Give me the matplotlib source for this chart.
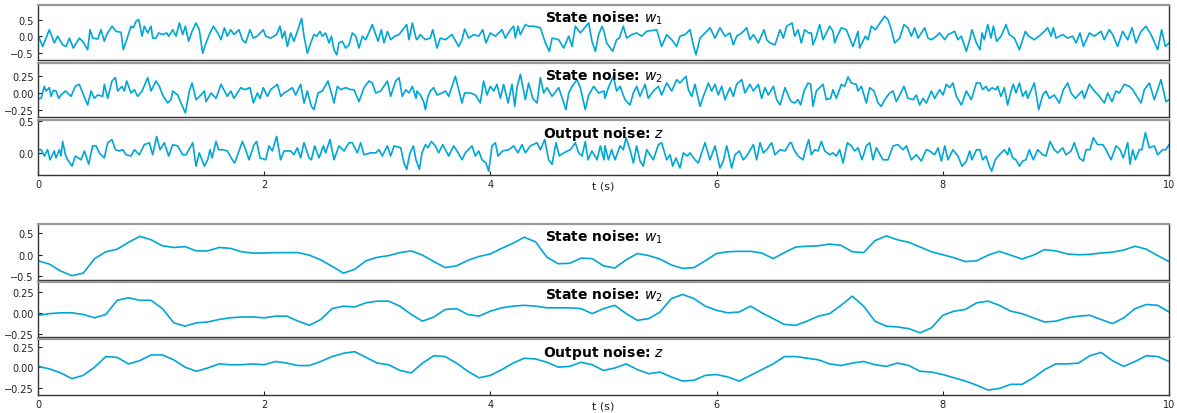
import numpy as np
import matplotlib
matplotlib.use('Agg')
from matplotlib import pyplot as plt

LINE_COLOR = '#00A6D6'
SPINE_COLOR = '#333333'
TOP_SPINE_COLOR = '#9a9a9a'

# ---- top group: raw noise (time in s, value) ----
w1_raw_t = [0.0, 0.041, 0.1, 0.144, 0.174, 0.218, 0.248, 0.277, 0.312, 0.365, 0.395, 0.439, 0.46, 0.483, 0.528,
            0.557, 0.586, 0.607, 0.654, 0.69, 0.734, 0.754, 0.784, 0.822, 0.843, 0.866, 0.89, 0.92, 0.94, 0.97,
            0.999, 1.014, 1.043, 1.067, 1.102, 1.138, 1.155, 1.191, 1.22, 1.25, 1.279, 1.303, 1.332, 1.362, 1.397,
            1.426, 1.456, 1.485, 1.515, 1.55, 1.589, 1.618, 1.648,
            1.674, 1.704, 1.733, 1.777, 1.807, 1.836, 1.874, 1.904, 1.939, 1.992, 2.013, 2.057, 2.087, 2.11, 2.14,
            2.16, 2.181, 2.205, 2.234, 2.263, 2.308, 2.331, 2.352, 2.381, 2.411, 2.44, 2.464, 2.493, 2.514, 2.543,
            2.573, 2.594, 2.617, 2.641, 2.661, 2.691, 2.72, 2.75, 2.779, 2.809, 2.838, 2.868, 2.897, 2.956, 2.986,
            3.006, 3.036, 3.059, 3.089, 3.118, 3.154, 3.192, 3.26, 3.28, 3.31, 3.342,
            3.351, 3.38, 3.425, 3.469, 3.49, 3.528, 3.557, 3.602, 3.66, 3.719, 3.749, 3.772, 3.808, 3.852, 3.896,
            3.932, 3.961, 3.999, 4.044, 4.103, 4.132, 4.176, 4.206, 4.22, 4.244, 4.265, 4.309, 4.338, 4.383, 4.442,
            4.486, 4.521, 4.545, 4.604, 4.648, 4.692, 4.722, 4.751, 4.795, 4.869, 4.898, 4.928, 4.957, 4.987, 5.004,
            5.028, 5.081, 5.116, 5.14, 5.175, 5.205, 5.249, 5.293, 5.337, 5.382, 5.47, 5.514, 5.559, 5.603, 5.647,
            5.676, 5.721, 5.765, 5.794, 5.818, 5.853, 5.912, 5.942, 5.986, 6.03, 6.074, 6.118, 6.148, 6.177, 6.222,
            6.266, 6.295, 6.325, 6.369, 6.419, 6.443, 6.472, 6.516, 6.561, 6.59, 6.619,
            6.667, 6.69, 6.72, 6.749, 6.779, 6.814, 6.838, 6.852, 6.882, 6.911, 6.941, 7.0, 7.029, 7.044, 7.073,
            7.103, 7.147, 7.206, 7.25, 7.265, 7.315, 7.339, 7.368, 7.403, 7.486, 7.515, 7.545, 7.574, 7.619, 7.657,
            7.692, 7.722, 7.751, 7.781, 7.84, 7.869, 7.899, 7.943, 7.972, 8.017, 8.046, 8.105, 8.134, 8.164, 8.208,
            8.238, 8.258, 8.297, 8.329,
            8.347, 8.367, 8.397, 8.426, 8.447, 8.476, 8.515, 8.559, 8.588, 8.633, 8.677, 8.73, 8.759, 8.809, 8.868,
            8.898, 8.927, 8.957, 8.977, 9.001, 9.06, 9.104, 9.148, 9.178, 9.213, 9.243, 9.296, 9.34, 9.399, 9.428,
            9.472, 9.502, 9.546, 9.59, 9.635, 9.673, 9.708, 9.753, 9.797, 9.841, 9.9, 9.935, 9.968, 10.0]
w1_raw = [0.04, -0.31, 0.21, -0.2, 0.01, -0.26, -0.31, -0.05, -0.36, -0.05, -0.15, -0.41, 0.21, -0.05, -0.08,
          0.21, -0.15, 0.06, 0.32, 0.16, 0.13, -0.41, -0.1, 0.32, 0.27, 0.47, 0.53, 0.01, 0.32, 0.11,
          0.32, -0.05, -0.05, 0.11, 0.06, 0.11, 0.01, 0.21, 0.01, 0.42, 0.06, 0.32, -0.15, 0.16, 0.42,
          0.21, -0.52, -0.2, 0.06, 0.32, 0.11, -0.1, 0.27,
          0.01, 0.21, 0.06, 0.21, -0.1, -0.2, 0.21, -0.05, 0.01, 0.21, 0.01, -0.05, 0.01, 0.06, 0.32,
          -0.05, 0.16, -0.31, 0.11, -0.15, 0.32, 0.56, 0.01, -0.52, -0.2, 0.06, 0.01, 0.16, 0.01, 0.11,
          -0.2, 0.01, -0.41, -0.57, -0.2, -0.15, -0.36, -0.26, 0.11, 0.01, -0.36, 0.01, -0.1, 0.37, 0.06,
          -0.15, 0.21, -0.2, 0.16, -0.1, 0.01, 0.06, 0.37, -0.1, 0.42, -0.05,
          -0.1, 0.06, -0.1, -0.05, 0.21, -0.36, -0.05, -0.1, 0.06, -0.31, -0.1, 0.23, -0.05, 0.06, 0.01,
          0.21, -0.2, 0.11, 0.01, 0.21, -0.05, 0.21, 0.32, -0.05, 0.32, 0.06, 0.37, 0.32, 0.32, 0.27,
          -0.2, -0.46, -0.05, -0.1, -0.36, 0.01, -0.31, 0.32, 0.11, 0.42, -0.15, -0.46, 0.06, 0.32, 0.16,
          -0.2, -0.46, -0.1, -0.05, 0.32, -0.05, 0.06, 0.11, 0.01, 0.16, 0.21, -0.31, 0.06, -0.1, -0.31,
          0.01, 0.06, 0.21, -0.26, -0.57, -0.05, 0.16, 0.27, -0.05, 0.27, 0.01, 0.11, -0.26, 0.01, 0.11,
          0.27, -0.1, 0.06, -0.2, 0.21, -0.1, -0.2, -0.26, 0.21, -0.05, 0.32,
          0.42, 0.01, 0.21, -0.2, 0.21, 0.11, 0.11, -0.26, 0.01, 0.37, -0.1, 0.32, 0.16, -0.2, 0.06,
          0.27, 0.21, -0.31, 0.16, -0.36, 0.01, -0.1, 0.32, 0.21, 0.63, 0.53, 0.21, -0.2, -0.05, 0.37,
          0.27, 0.01, 0.27, -0.05, 0.27, -0.05, -0.1, 0.01, 0.11, -0.1, 0.06, 0.16, -0.1, 0.01, -0.46,
          -0.1, 0.21, -0.2, -0.41,
          0.11, -0.1, 0.37, -0.05, 0.32, -0.15, 0.01, 0.37, 0.06, -0.05, -0.41, 0.16, 0.01, -0.1, 0.06,
          0.16, 0.27, 0.01, 0.27, -0.05, 0.06, -0.05, 0.01, -0.2, 0.11, -0.31, 0.11, 0.01, 0.16, -0.1,
          0.21, 0.06, -0.31, 0.16, -0.1, 0.27, -0.2, 0.16, 0.32, 0.06, -0.41, 0.21, -0.31, -0.2]

w2_raw_t = [0.0, 0.027, 0.056, 0.071, 0.1, 0.115, 0.136, 0.159, 0.183, 0.203, 0.242, 0.262, 0.292, 0.33, 0.365,
            0.395, 0.439, 0.469, 0.498, 0.528, 0.572, 0.586, 0.616, 0.654, 0.684, 0.704, 0.743, 0.763, 0.784, 0.822,
            0.852, 0.881, 0.92, 0.97, 0.999, 1.043, 1.073, 1.102, 1.146, 1.176, 1.191, 1.235, 1.264, 1.303, 1.338,
            1.362, 1.397, 1.441, 1.471, 1.485, 1.53, 1.574, 1.618,
            1.674, 1.704, 1.733, 1.762, 1.792, 1.827, 1.874, 1.904, 1.939, 1.963, 1.992, 2.028, 2.057, 2.116, 2.146,
            2.175, 2.205, 2.249, 2.278, 2.322, 2.352, 2.381, 2.417, 2.44, 2.476, 2.514, 2.564, 2.602, 2.617, 2.647,
            2.676, 2.72, 2.765, 2.794, 2.838, 2.882, 2.927, 2.956, 2.986, 3.03, 3.089, 3.118, 3.162, 3.192, 3.221,
            3.251, 3.28, 3.31, 3.342,
            3.351, 3.38, 3.41, 3.425, 3.448, 3.469, 3.498, 3.528, 3.572, 3.602, 3.631, 3.69, 3.719, 3.749, 3.772,
            3.823, 3.867, 3.911, 3.94, 3.97, 3.999, 4.029, 4.058, 4.088, 4.117, 4.156, 4.191, 4.215, 4.235, 4.265,
            4.294, 4.309, 4.338, 4.374, 4.412, 4.442, 4.471, 4.5, 4.545, 4.604, 4.668, 4.692, 4.722, 4.766, 4.795,
            4.839, 4.869, 4.913, 4.957, 5.004,
            5.013, 5.043, 5.087, 5.116, 5.146, 5.19, 5.234, 5.264, 5.293, 5.323, 5.367, 5.396, 5.441, 5.485, 5.514,
            5.559, 5.603, 5.647, 5.676, 5.729, 5.75, 5.78, 5.809, 5.853, 5.883, 5.927, 5.956, 5.986, 6.015, 6.045,
            6.074, 6.118, 6.148, 6.177, 6.222, 6.251, 6.295, 6.325, 6.369, 6.398, 6.428, 6.457, 6.502, 6.531, 6.561,
            6.605, 6.649,
            6.661, 6.69, 6.72, 6.743, 6.773, 6.808, 6.832, 6.852, 6.882, 6.911, 6.941, 6.97, 7.008, 7.029, 7.059,
            7.103, 7.132, 7.162, 7.191, 7.235, 7.25, 7.28, 7.324, 7.353, 7.392, 7.427, 7.456, 7.486, 7.53, 7.56,
            7.589, 7.657, 7.692, 7.737, 7.766, 7.795, 7.825, 7.854, 7.899, 7.928, 7.972, 8.002, 8.031, 8.061, 8.09,
            8.12, 8.164, 8.208, 8.252, 8.297, 8.329,
            8.352, 8.382, 8.405, 8.435, 8.47, 8.485, 8.514, 8.544, 8.573, 8.603, 8.624, 8.647, 8.677, 8.706, 8.736,
            8.75, 8.809, 8.848, 8.883, 8.912, 8.942, 8.986, 9.03, 9.066, 9.104, 9.134, 9.172, 9.231, 9.251, 9.296,
            9.34, 9.384, 9.428, 9.458, 9.496, 9.531, 9.561, 9.605, 9.649, 9.679, 9.753, 9.782, 9.826, 9.87, 9.929,
            9.973, 10.0]
w2_raw = [-0.08, -0.08, 0.1, 0.03, 0.08, -0.05, 0.04, 0.03, -0.08, -0.03, 0.03, 0.0, -0.05, 0.1, 0.13,
          0.0, -0.18, 0.03, -0.08, -0.03, -0.05, 0.13, -0.08, 0.18, 0.23, 0.03, 0.1, 0.03, 0.18, 0.0,
          0.05, -0.05, 0.03, 0.23, 0.03, 0.18, 0.1, -0.03, -0.15, -0.1, 0.03, -0.03, -0.15, -0.3, 0.03,
          0.15, -0.1, -0.03, 0.03, -0.13, 0.0, -0.08, 0.13,
          -0.05, 0.03, -0.08, 0.0, 0.08, 0.05, 0.08, -0.15, 0.0, -0.08, 0.08, -0.05, 0.05, 0.13, -0.05,
          0.0, 0.03, 0.08, -0.03, 0.13, -0.15, 0.03, -0.2, -0.25, 0.0, 0.03, 0.18, -0.05, -0.15, 0.1,
          0.05, 0.08, 0.05, 0.05, -0.13, 0.08, 0.18, 0.15, 0.0, 0.03, 0.18, -0.05, 0.18, 0.23, -0.05,
          0.05, 0.0, 0.1, -0.08,
          0.03, -0.03, -0.13, -0.25, -0.05, 0.03, 0.08, -0.03, 0.0, 0.03, -0.05, 0.25, 0.05, -0.15, 0.0,
          0.0, -0.03, -0.15, 0.18, -0.03, 0.1, 0.03, 0.13, -0.08, 0.13, -0.15, 0.13, -0.2, 0.08, 0.28,
          0.03, -0.1, 0.15, -0.08, -0.15, 0.23, 0.0, 0.08, -0.05, 0.08, -0.25, 0.0, 0.1, 0.2, 0.08,
          -0.25, -0.03, 0.1, 0.0, 0.03,
          -0.08, 0.08, 0.25, 0.03, 0.1, -0.1, -0.18, 0.0, 0.1, -0.05, 0.13, -0.08, 0.03, 0.1, -0.03,
          0.15, 0.03, 0.2, 0.15, 0.25, 0.05, -0.05, 0.13, -0.2, -0.05, 0.15, 0.03, 0.13, -0.03, 0.1,
          -0.1, 0.08, -0.05, 0.13, 0.2, 0.0, 0.13, 0.03, 0.13, -0.08, 0.08, -0.03, 0.1, -0.1, -0.18,
          0.08, -0.1,
          -0.13, -0.15, -0.1, -0.18, 0.03, 0.15, 0.13, -0.2, 0.03, 0.08, 0.13, -0.1, -0.08, 0.05, -0.08,
          0.13, 0.1, 0.24, 0.15, 0.13, 0.03, 0.1, -0.15, 0.08, 0.03, -0.15, -0.2, -0.1, 0.0, 0.03,
          -0.13, 0.1, -0.08, -0.1, -0.03, -0.18, -0.08, -0.15, 0.03, -0.08, 0.05, -0.03, 0.13, 0.08, 0.15,
          -0.05, -0.18, 0.03, -0.1, 0.15, 0.15,
          0.05, 0.1, 0.03, 0.08, 0.05, 0.1, -0.05, 0.08, -0.18, 0.03, 0.13, 0.0, 0.15, -0.05, 0.03,
          -0.08, 0.15, -0.25, -0.03, 0.03, -0.08, -0.03, -0.15, 0.05, 0.15, 0.0, -0.08, 0.03, -0.08, 0.13,
          0.03, -0.05, -0.15, 0.0, -0.13, 0.03, 0.0, 0.13, 0.1, 0.05, -0.15, 0.05, 0.15, -0.1, 0.2,
          -0.13, -0.1]

z_raw_t = [0.0, 0.027, 0.056, 0.085, 0.106, 0.144, 0.159, 0.189, 0.203, 0.218, 0.242, 0.262, 0.301, 0.33, 0.38,
           0.41, 0.448, 0.483, 0.513, 0.542, 0.586, 0.616, 0.654, 0.684, 0.719, 0.749, 0.778, 0.822, 0.852, 0.896,
           0.94, 0.984, 1.014, 1.049, 1.079, 1.117, 1.155, 1.191, 1.235, 1.279, 1.309, 1.368, 1.397, 1.426, 1.471,
           1.5, 1.521, 1.539, 1.574, 1.597, 1.633,
           1.674, 1.718, 1.739, 1.762, 1.807, 1.836, 1.866, 1.91, 1.933, 1.963, 2.013, 2.042, 2.072, 2.11, 2.145,
           2.175, 2.234, 2.263, 2.293, 2.322, 2.352, 2.396, 2.417, 2.446, 2.485, 2.523, 2.543, 2.582, 2.617, 2.661,
           2.706, 2.75, 2.779, 2.823, 2.853, 2.882, 2.941, 2.986, 3.015, 3.044, 3.089, 3.118, 3.148, 3.207, 3.236,
           3.26, 3.289, 3.319, 3.342,
           3.372, 3.395, 3.425, 3.448, 3.478, 3.513, 3.543, 3.578, 3.602, 3.631, 3.675, 3.705, 3.749, 3.778, 3.837,
           3.867, 3.896, 3.926, 3.961, 3.985, 4.014, 4.044, 4.067, 4.108, 4.162, 4.206, 4.244, 4.279, 4.309, 4.353,
           4.412, 4.442, 4.48, 4.515, 4.545, 4.58, 4.609, 4.648, 4.707, 4.751, 4.78, 4.81, 4.839, 4.863, 4.898,
           4.943, 4.972, 5.004,
           5.013, 5.043, 5.072, 5.102, 5.146, 5.175, 5.199, 5.234, 5.264, 5.293, 5.323, 5.352, 5.382, 5.411, 5.441,
           5.485, 5.514, 5.559, 5.588, 5.612, 5.641, 5.676, 5.706, 5.741, 5.765, 5.809, 5.838, 5.897, 5.942, 5.986,
           6.03, 6.059, 6.089, 6.104, 6.133, 6.163, 6.201, 6.236, 6.266, 6.325, 6.354, 6.384, 6.413, 6.443, 6.487,
           6.516, 6.561, 6.605, 6.649,
           6.661, 6.684, 6.72, 6.764, 6.779, 6.814, 6.838, 6.867, 6.897, 6.926, 6.956, 7.0, 7.029, 7.059, 7.088,
           7.118, 7.156, 7.191, 7.221, 7.25, 7.286, 7.324, 7.353, 7.383, 7.412, 7.471, 7.515, 7.56, 7.604, 7.648,
           7.678, 7.722, 7.766, 7.81, 7.854, 7.884, 7.928, 7.958, 7.987, 8.017, 8.046, 8.09, 8.134, 8.17, 8.208,
           8.238, 8.258, 8.297, 8.329,
           8.352, 8.382, 8.411, 8.432, 8.464, 8.5, 8.544, 8.573, 8.588, 8.618, 8.647, 8.677, 8.706, 8.735, 8.765,
           8.8, 8.839, 8.883, 8.912, 8.948, 8.986, 9.016, 9.06, 9.089, 9.134, 9.163, 9.207, 9.243, 9.266, 9.301,
           9.331, 9.369, 9.414, 9.443, 9.487, 9.532, 9.567, 9.596, 9.635, 9.655, 9.679, 9.702, 9.738, 9.761, 9.791,
           9.826, 9.87, 9.9, 9.944, 9.973, 10.0]
z_raw = [0.05, 0.05, -0.05, 0.05, -0.11, 0.03, -0.08, 0.05, -0.05, 0.18, -0.03, -0.11, -0.21, -0.05, -0.11,
         0.03, -0.18, 0.11, 0.11, 0.0, -0.08, 0.16, 0.21, 0.05, 0.03, 0.05, -0.03, -0.05, 0.05, -0.03,
         0.13, 0.16, -0.03, 0.26, 0.05, 0.16, -0.05, 0.13, 0.11, -0.03, -0.03, 0.16, -0.21, 0.0, -0.21,
         -0.11, 0.05, -0.08, 0.18, 0.05, 0.05,
         0.03, -0.11, -0.16, -0.05, 0.18, 0.05, -0.11, 0.13, 0.18, -0.08, -0.11, 0.11, 0.03, 0.26, -0.11,
         0.03, 0.03, -0.03, 0.08, -0.08, 0.16, -0.08, -0.11, 0.11, -0.08, 0.11, 0.0, 0.21, -0.11, 0.11,
         0.03, 0.16, 0.16, 0.0, 0.16, -0.03, 0.0, 0.0, 0.05, -0.05, 0.11, -0.05, 0.11, 0.08, -0.16,
         -0.26, 0.0, 0.11, -0.11,
         -0.26, 0.0, 0.13, 0.08, 0.18, 0.11, 0.0, 0.13, 0.05, -0.05, 0.11, 0.03, -0.11, 0.0, 0.11,
         -0.05, 0.03, -0.11, -0.16, -0.29, 0.11, 0.16, -0.05, 0.03, 0.05, 0.11, 0.0, 0.13, 0.0, 0.11,
         0.16, 0.05, 0.21, -0.11, -0.18, 0.16, -0.05, 0.0, 0.05, 0.16, 0.0, -0.05, 0.18, -0.11, 0.03,
         -0.11, 0.11, -0.11,
         0.11, -0.11, 0.05, -0.11, 0.11, 0.05, 0.24, 0.05, -0.16, 0.11, -0.13, -0.21, 0.05, -0.03, -0.11,
         0.13, 0.16, -0.11, -0.03, -0.21, -0.08, -0.24, 0.0, -0.05, 0.0, -0.11, -0.16, 0.16, -0.11, 0.11,
         -0.24, -0.13, 0.11, 0.0, -0.24, -0.03, 0.03, -0.11, -0.05, 0.13, -0.11, 0.16, 0.0, 0.05, 0.16,
         -0.03, 0.05, 0.03, 0.16,
         0.16, 0.05, -0.05, -0.11, 0.0, 0.21, -0.03, 0.05, 0.03, 0.18, 0.03, -0.03, 0.0, -0.05, 0.05,
         -0.16, 0.16, 0.11, 0.03, 0.08, -0.11, 0.11, 0.16, -0.11, 0.08, -0.11, -0.11, 0.11, 0.13, 0.05,
         0.11, -0.11, -0.03, -0.13, 0.05, 0.03, -0.03, 0.08, -0.13, 0.11, -0.11, 0.05, -0.05, -0.21, -0.13,
         0.03, -0.11, 0.05, 0.05,
         -0.11, -0.05, -0.21, -0.29, -0.11, -0.03, 0.05, -0.03, 0.08, -0.08, -0.11, -0.21, -0.13, -0.11, 0.05,
         -0.11, 0.05, -0.03, -0.05, 0.18, 0.05, 0.0, 0.08, -0.03, 0.03, 0.16, -0.08, -0.13, 0.05, 0.05,
         0.24, 0.13, 0.13, 0.05, -0.11, 0.11, 0.05, -0.08, 0.16, -0.18, 0.05, -0.11, 0.05, 0.05, 0.32,
         0.08, 0.11, -0.03, 0.05, 0.05, 0.13]

# ---- bottom group: filtered noise, read every 0.1 s ----
w1_filt = [-0.14, -0.22, -0.38, -0.49, -0.43, -0.09, 0.07, 0.13, 0.29, 0.43,
           0.35, 0.21, 0.17, 0.19, 0.09, 0.09, 0.17, 0.15, 0.07, 0.04,
           0.04, 0.05, 0.05, 0.05, -0.01, -0.12, -0.27, -0.43, -0.34, -0.14,
           -0.06, -0.02, 0.05, 0.09, -0.01, -0.16, -0.3, -0.26, -0.13, -0.04,
           0.02, 0.15, 0.27, 0.41, 0.3, -0.06, -0.21, -0.2, -0.08, -0.09,
           -0.26, -0.31, -0.12, 0.03, -0.02, -0.1, -0.24, -0.32, -0.3, -0.14,
           0.03, 0.07, 0.08, 0.08, 0.04, -0.09, 0.05, 0.18, 0.2, 0.21,
           0.25, 0.22, 0.07, 0.05, 0.33, 0.44, 0.35, 0.29, 0.18, 0.07,
           0.0, -0.07, -0.16, -0.14, -0.01, 0.08, -0.01, -0.1, -0.01, 0.12,
           0.09, 0.02, 0.0, 0.01, 0.04, 0.06, 0.11, 0.2, 0.13, -0.02, -0.16]
w2_filt = [-0.03, -0.01, 0.0, 0.0, -0.02, -0.06, -0.02, 0.15, 0.18, 0.15,
           0.15, 0.05, -0.12, -0.16, -0.12, -0.11, -0.08, -0.06, -0.05, -0.05,
           -0.06, -0.04, -0.04, -0.1, -0.15, -0.08, 0.05, 0.08, 0.07, 0.12,
           0.14, 0.14, 0.08, -0.02, -0.1, -0.05, 0.04, 0.05, -0.02, -0.04,
           0.02, 0.06, 0.08, 0.09, 0.08, 0.06, 0.06, 0.06, 0.05, -0.01,
           0.05, 0.09, -0.01, -0.09, -0.07, 0.01, 0.17, 0.22, 0.17, 0.08,
           0.03, 0.0, 0.01, 0.08, 0.0, -0.07, -0.14, -0.15, -0.1, -0.04,
           -0.01, 0.09, 0.2, 0.08, -0.1, -0.16, -0.17, -0.19, -0.24, -0.18,
           -0.03, 0.02, 0.04, 0.12, 0.14, 0.09, 0.02, -0.01, -0.06, -0.11,
           -0.1, -0.06, -0.04, -0.03, -0.08, -0.13, -0.06, 0.05, 0.1, 0.09, 0.01]
z_filt = [0.01, -0.02, -0.07, -0.14, -0.1, 0.0, 0.13, 0.12, 0.04, 0.08,
          0.15, 0.15, 0.09, 0.0, -0.05, -0.01, 0.04, 0.03, 0.03, 0.04,
          0.03, 0.07, 0.05, 0.02, 0.02, 0.07, 0.13, 0.17, 0.19, 0.12,
          0.05, 0.03, -0.04, -0.07, 0.05, 0.14, 0.13, 0.05, -0.05, -0.13,
          -0.1, -0.03, 0.05, 0.11, 0.1, 0.06, 0.0, 0.01, 0.06, 0.03,
          -0.04, -0.01, 0.04, -0.03, -0.08, -0.06, -0.12, -0.17, -0.16, -0.1,
          -0.09, -0.12, -0.17, -0.1, -0.03, 0.04, 0.13, 0.13, 0.11, 0.09,
          0.04, 0.02, 0.05, 0.07, 0.03, 0.01, 0.05, 0.02, -0.05, -0.06,
          -0.09, -0.13, -0.17, -0.22, -0.28, -0.26, -0.21, -0.21, -0.13, -0.03,
          0.04, 0.04, 0.05, 0.14, 0.18, 0.08, 0.01, 0.07, 0.14, 0.13, 0.07]
t_filt = np.linspace(0, 10, len(w1_filt))

titles = ['State noise: $w_1$', 'State noise: $w_2$', 'Output noise: $z$']
x_ticks = [0, 2, 4, 6, 8, 10]


def style_axis(ax, title, ylim, yticks, bottom):
    ax.set_xlim(0, 10)
    ax.set_ylim(*ylim)
    ax.set_yticks(yticks)
    ax.set_xticks(x_ticks)
    ax.tick_params(direction='in', length=3, width=0.8, labelsize=7, colors='#222222', pad=3)
    for s in ax.spines.values():
        s.set_color(SPINE_COLOR)
        s.set_linewidth(1.0)
    ax.spines['top'].set_color(TOP_SPINE_COLOR)
    ax.spines['top'].set_linewidth(1.6)
    if bottom:
        ax.set_xlabel('t (s)', fontsize=8, color='#222222')
        ax.xaxis.set_label_coords(0.5, -0.1)
    else:
        ax.tick_params(axis='x', bottom=False, labelbottom=False)
    ax.text(0.5, 0.93, title, transform=ax.transAxes, ha='center', va='top',
            fontsize=10, fontweight='bold')


fig = plt.figure(figsize=(11.77, 4.14), dpi=100)
left, width = 0.0323, 0.9609

top_rows = [
    (0.8527, 0.1329, w1_raw_t, w1_raw, (-0.73, 0.98), [-0.5, 0.0, 0.5]),
    (0.7150, 0.1304, w2_raw_t, w2_raw, (-0.36, 0.45), [-0.25, 0.0, 0.25]),
    (0.5749, 0.1329, z_raw_t, z_raw, (-0.35, 0.52), [0.0, 0.5]),
]
for i, (b, h, tt, vals, ylim, yt) in enumerate(top_rows):
    ax = fig.add_axes([left, b, width, h])
    ax.plot(tt, vals, color=LINE_COLOR, lw=1.2)
    style_axis(ax, titles[i], ylim, yt, i == 2)

bot_rows = [
    (0.3213, 0.1353, w1_filt, (-0.59, 0.72), [-0.5, 0.0, 0.5]),
    (0.1836, 0.1329, w2_filt, (-0.29, 0.37), [-0.25, 0.0, 0.25]),
    (0.0435, 0.1353, z_filt, (-0.34, 0.345), [-0.25, 0.0, 0.25]),
]
for i, (b, h, vals, ylim, yt) in enumerate(bot_rows):
    ax = fig.add_axes([left, b, width, h])
    ax.plot(t_filt, vals, color=LINE_COLOR, lw=1.2)
    style_axis(ax, titles[i], ylim, yt, i == 2)

fig.savefig('out.png', dpi=100)
